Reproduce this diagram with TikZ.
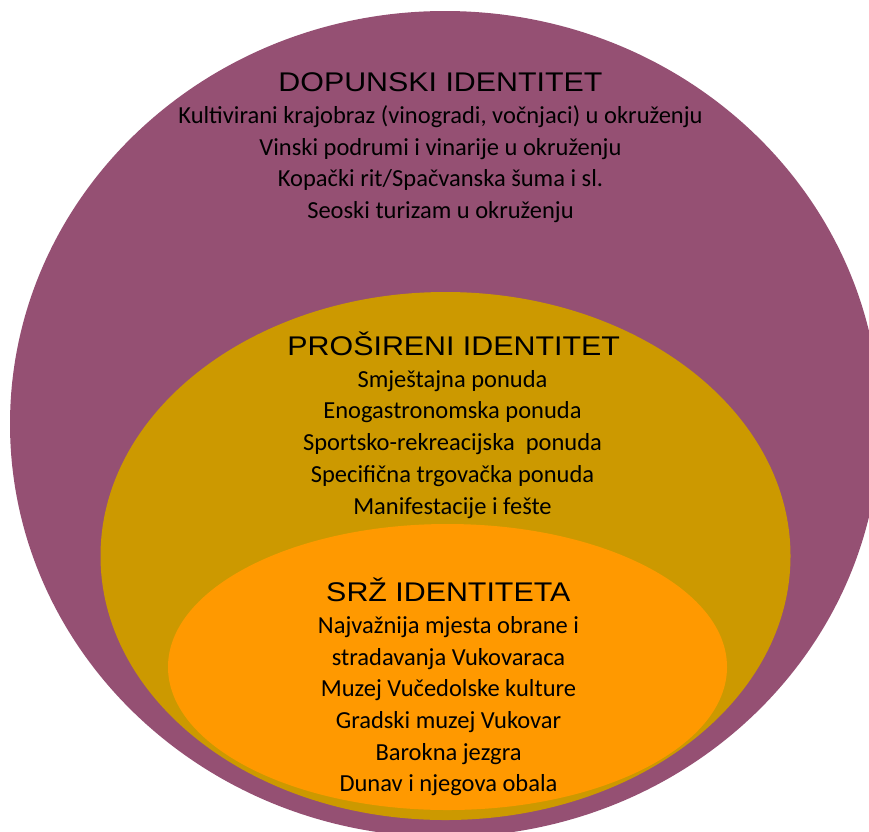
\documentclass[tikz,border=0pt]{standalone}
\usepackage{graphicx}
\usepackage{fontspec}
\setmainfont{Carlito}
\newfontfamily\headfont{Liberation Sans}
\definecolor{outerplum}{HTML}{955073}
\definecolor{midgold}{HTML}{CC9900}
\definecolor{coreorange}{HTML}{FF9900}
\begin{document}
\begin{tikzpicture}[x=1pt,y=-1pt,
   head/.style={anchor=base,inner sep=0pt,font=\headfont\fontsize{27}{27}\selectfont},
   entry/.style={anchor=base,inner sep=0pt,font=\fontsize{24.5}{24.5}\selectfont}]
   \useasboundingbox (0,0) rectangle (869,831);
   \clip (0,0) rectangle (869,831);

   % the three rings
   \fill[outerplum] (445,424) ellipse[x radius=435pt,y radius=413pt];
   \fill[midgold] (445.5,556) ellipse[x radius=345pt,y radius=264pt];
   \fill[coreorange] (447.5,667) ellipse[x radius=279.5pt,y radius=143pt];

   % outer ring
   \node[head] (dop) at (440.5,91.7) {\scalebox{1.125}[1]{DOPUNSKI IDENTITET}};
   \foreach \t [count=\i] in {{Kultivirani krajobraz (vinogradi, vočnjaci) u okruženju},
      Vinski podrumi i vinarije u okruženju,
      Kopački rit/Spačvanska šuma i sl.,
      Seoski turizam u okruženju}
      \node[entry] (dop\i) at (440.5,91.7+31.7*\i) {\t};

   % middle ring
   \node[head] (pro) at (453.7,355.5) {\scalebox{1.125}[1]{PROŠIRENI IDENTITET}};
   \foreach \t [count=\i] in {Smještajna ponuda,
      Enogastronomska ponuda,
      Sportsko-rekreacijska\ \ ponuda,
      Specifična trgovačka ponuda,
      Manifestacije i fešte}
      \node[entry] (pro\i) at (452.5,355.5+31.7*\i) {\t};

   % core
   \node[head] (srz) at (448.3,601.7) {\scalebox{1.125}[1]{SRŽ IDENTITETA}};
   \foreach \t [count=\i] in {Najvažnija mjesta obrane i,
      stradavanja Vukovaraca,
      Muzej Vučedolske kulture,
      Gradski muzej Vukovar,
      Barokna jezgra,
      Dunav i njegova obala}
      \node[entry] (srz\i) at (448.5,601.7+31.7*\i) {\t};
\end{tikzpicture}
\end{document}
